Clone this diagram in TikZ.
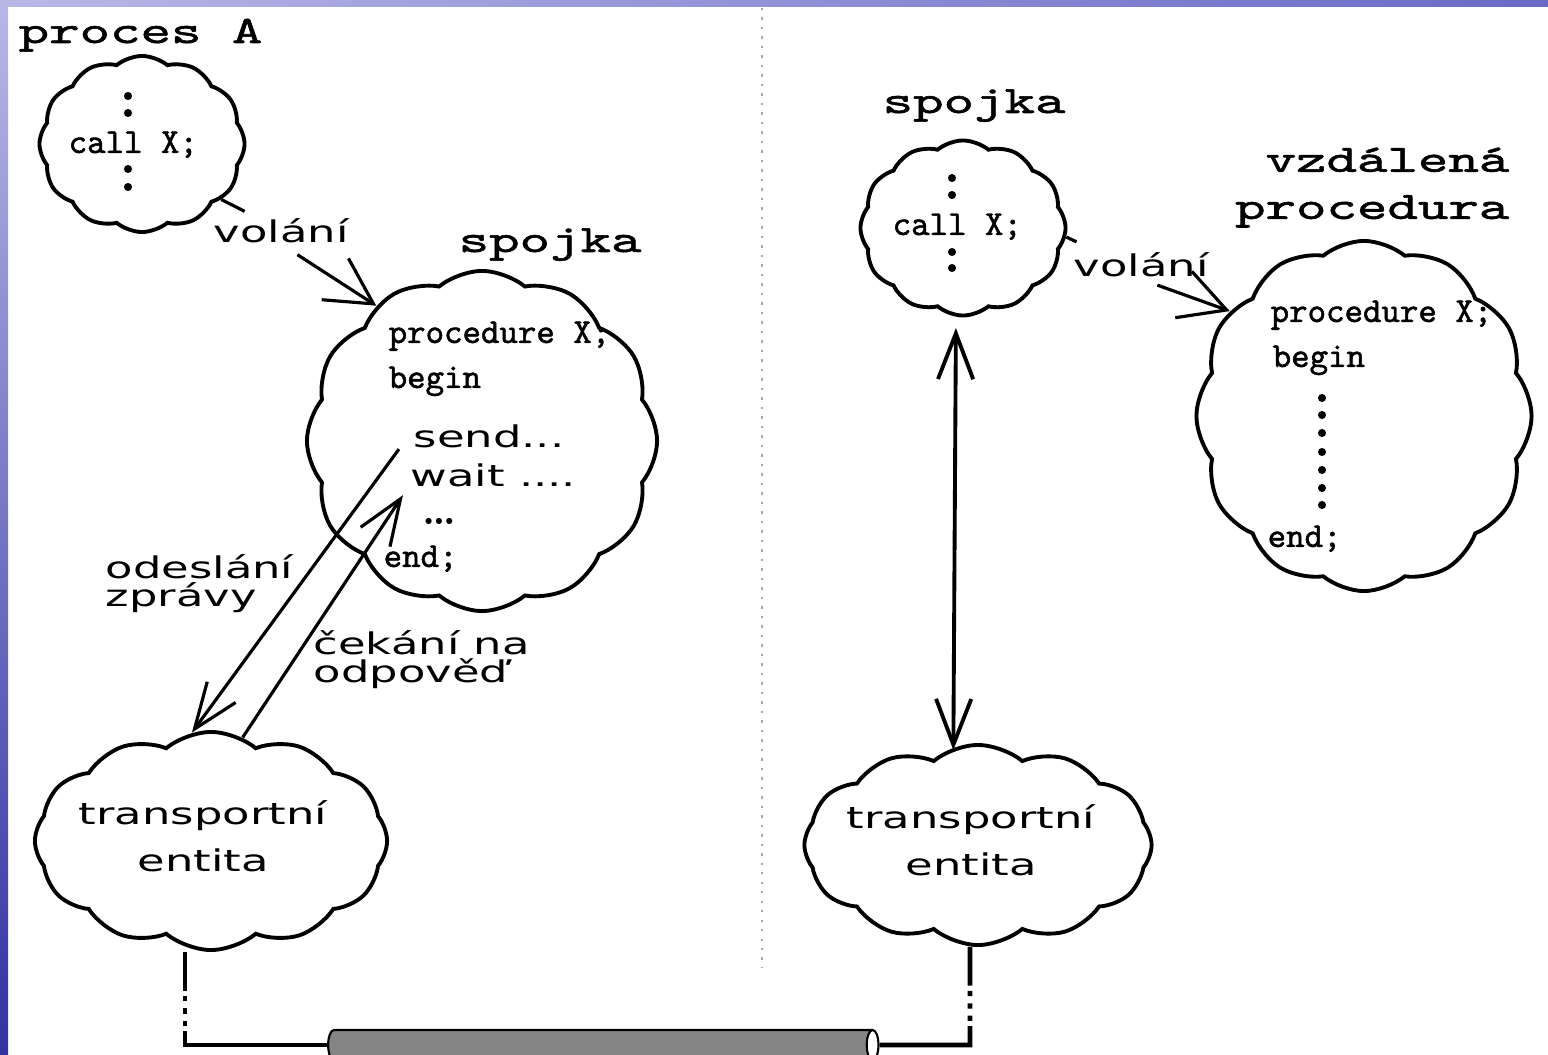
\documentclass[tikz,border=0pt]{standalone}
\usepackage{fontspec}
\usetikzlibrary{shapes.symbols,shapes.geometric,arrows.meta}
\newfontfamily\headfont[FakeStretch=1.5,FakeBold=1.5]{lmmono10-regular.otf}
\newfontfamily\codefont[FakeBold=1.4]{lmmono10-regular.otf}
\newfontfamily\thinfont[FakeStretch=1.5]{DejaVu Sans}
\definecolor{stripA}{HTML}{B8B8E6}
\definecolor{stripB}{HTML}{6A6AC6}
\definecolor{stripC}{HTML}{3232A2}

\begin{document}
\begin{tikzpicture}[x=0.01cm,y=-0.01cm]
\tikzset{cloudbox/.style={cloud,draw,line width=1.1pt,cloud puffs=12,cloud puff arc=80,cloud ignores aspect,inner sep=0pt}}
\tikzset{dot/.style={circle,fill,inner sep=0pt,minimum size=2.3pt}}
\tikzset{head/.style={font=\headfont\fontsize{11}{13.4}\selectfont,inner sep=0pt}}
\tikzset{code/.style={font=\codefont\fontsize{10}{12}\selectfont,inner sep=0pt}}
\tikzset{thin/.style={font=\thinfont\fontsize{8.5}{8}\selectfont,inner sep=0pt}}
\tikzset{barb/.style={line width=0.9pt,-{Straight Barb[length=13pt,width=10pt]}}}
\tikzset{callbarb/.style={line width=0.9pt,-{Straight Barb[length=13pt,width=14pt]}}}
\tikzset{linkline/.style={line width=1.4pt,dash pattern=on 11pt off 1.5pt on 1.5pt off 2pt on 1.5pt off 2pt on 1.5pt off 1.5pt on 200pt}}

\useasboundingbox (0,0) rectangle (1548,1055);
\clip (0,0) rectangle (1548,1055);
\fill[white] (0,0) rectangle (1548,1055);
\shade[left color=stripA,right color=stripB] (0,0) rectangle (1548,7);
\shade[top color=stripA,bottom color=stripC] (0,0) rectangle (8,1055);
\draw[gray!70,line width=0.7pt,dash pattern=on 0.7pt off 2pt] (762,8) -- (762,968);

% proces A
\path (18,43) node[head,anchor=base west] (procA) {proces A};
\path (142,144) node[cloudbox,minimum width=2.05cm,minimum height=1.76cm] (cloudA) {};
\foreach \y [count=\i] in {96,113,169,187}
  \path (128,\y) node[dot] (dA\i) {};
\path (68,153) node[code,anchor=base west] (callA) {call X;};
\path (213,243) node[thin,anchor=base west] (volA) {volání};

% spojka (left)
\path (458,252) node[head,anchor=base west] (spojA) {spojka};
\path (482,441) node[cloudbox,minimum width=3.5cm,minimum height=3.4cm] (cloudB) {};
\path (388,343) node[code,anchor=base west] (procX) {procedure X;};
\path (388,388) node[code,anchor=base west] (beginA) {begin};
\path (413,448) node[thin,anchor=base west] (sendA) {send...};
\path (410,487) node[thin,anchor=base west] (waitA) {wait ....};
\path (422,525) node[anchor=base west,inner sep=0pt,font=\normalfont\bfseries\fontsize{12}{12}\selectfont] (dotsA) {\ldots};
\path (383,567) node[code,anchor=base west] (endA) {end;};

\draw[line width=0.9pt] (cloudA.-35) -- ([xshift=9pt,yshift=2pt]volA.north west);
\draw[callbarb] ([xshift=24pt,yshift=-3pt]volA.south west) -- (cloudB.128);

% transportni entita (left)
\path (211,841) node[cloudbox,minimum width=3.52cm,minimum height=2.18cm] (transA) {};
\path (203,800) node[thin,align=center,anchor=north] (transAt) {transportní\\[4pt]entita};

\draw[barb] ([xshift=-4pt]sendA.south west) -- (transA.100);
\draw[barb] (transA.73) -- ([xshift=-2pt,yshift=-2pt]waitA.south west);
\path (105,554) node[thin,align=left,anchor=north west] (odesl) {odeslání\\zprávy};
\path (313,630) node[thin,align=left,anchor=north west] (cekani) {čekání na\\odpověď};

% spojka (right)
\path (882,113) node[head,anchor=base west] (spojB) {spojka};
\path (963,228) node[cloudbox,minimum width=2.05cm,minimum height=1.75cm] (cloudC) {};
\foreach \y [count=\i] in {178,195,252,268}
  \path (952,\y) node[dot] (dC\i) {};
\path (892,235) node[code,anchor=base west] (callB) {call X;};
\path (1073,277) node[thin,anchor=base west] (volB) {volání};

% vzdalena procedura
\path (1510,147) node[head,align=right,anchor=north east] (vzdal) {vzdálená\\procedura};
\path (1364,416) node[cloudbox,minimum width=3.35cm,minimum height=3.5cm] (cloudD) {};
\path (1270,322) node[code,anchor=base west] (procY) {procedure X;};
\path (1272,367) node[code,anchor=base west] (beginB) {begin};
\foreach \y [count=\i] in {398,415,433,452,470,488,505}
  \path (1322,\y) node[dot] (dD\i) {};
\path (1267,547) node[code,anchor=base west] (endB) {end;};

\draw[line width=0.9pt] (cloudC.-5) -- ([xshift=1pt,yshift=3pt]volB.north west);
\draw[callbarb] ([xshift=24pt,yshift=-2pt]volB.south west) -- (cloudD.142);

% transportni entita (right)
\path (978,845) node[cloudbox,minimum width=3.47cm,minimum height=2.0cm] (transB) {};
\path (971,804) node[thin,align=center,anchor=north] (transBt) {transportní\\[4pt]entita};
\draw[line width=1.1pt,shorten <=3pt,shorten >=-2pt,
  {Straight Barb[length=13pt,width=10pt]}-{Straight Barb[length=13pt,width=10pt]}]
  ([xshift=-2pt]cloudC.south) -- ([xshift=-7pt]transB.north);

% cable
\path (597,1045) node[cylinder,draw,line width=0.6pt,minimum width=0.3cm,minimum height=5.5cm,aspect=0.5,
  cylinder uses custom fill,cylinder body fill=black!48,cylinder end fill=white] (cable) {};
\coordinate (dropA) at (185,1045);
\coordinate (dropB) at (970,1045);
\draw[linkline] (dropA |- transA.south) -- (dropA) -- (cable.west);
\draw[linkline] (dropB |- transB.south) -- (dropB) -- (cable.east);

\end{tikzpicture}
\end{document}
